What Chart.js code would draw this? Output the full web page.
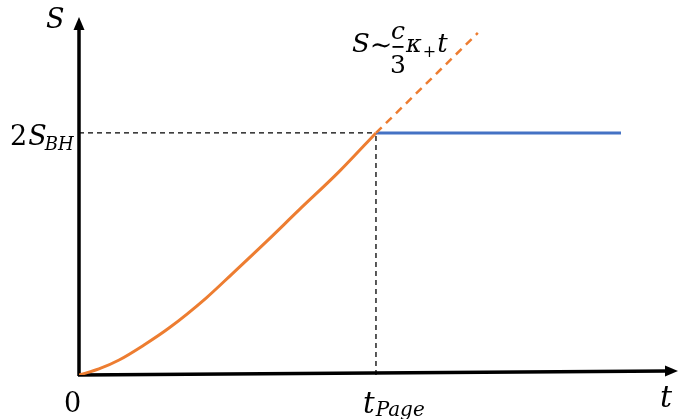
<!DOCTYPE html>
<html>
<head>
<meta charset="utf-8">
<script src="https://cdn.jsdelivr.net/npm/chart.js@4.4.0/dist/chart.umd.min.js"></script>
<style>
  html, body { margin: 0; padding: 0; background: #fff; }
  #wrap { width: 678px; height: 419px; }
</style>
</head>
<body>
<div id="wrap"><canvas id="entropyChart"></canvas></div>
<script>
// t measured in units of t_Page, S in units of 2S_BH
const curveT = [0, 0.067, 0.135, 0.219, 0.303, 0.428, 0.515, 0.63, 0.741, 0.875, 1];
const curveS = [0, 0.025, 0.062, 0.124, 0.194, 0.318, 0.417, 0.55, 0.682, 0.839, 1];
const linearT = [1, 1.343];
const linearS = [1, 1.413];
const plateauT = [1, 1.825];
const plateauS = [1, 1];
const tPage = 1;
const sPage = 1;
const xMax = 2.017;
const yMax = 1.479;

const toPoints = (xs, ys) => xs.map((x, i) => ({ x: x, y: ys[i] }));
const serif = "'DejaVu Serif', serif";

// draw pieces of text one after another: [text, font, dy, gapAfter]
function drawRun(ctx, parts, x, y) {
  parts.forEach(([text, font, dy, gap]) => {
    ctx.font = font + " " + serif;
    ctx.fillText(text, x, y + (dy || 0));
    x += ctx.measureText(text).width + (gap || 0);
  });
  return x;
}

const axesPlugin = {
  id: "axes",
  beforeDatasetsDraw(chart) {
    const { ctx, scales } = chart;
    const x0 = scales.x.getPixelForValue(0);
    const y0 = scales.y.getPixelForValue(0);
    const xEnd = scales.x.getPixelForValue(xMax);
    const yTop = scales.y.getPixelForValue(yMax);
    const tilt = 4;
    ctx.save();
    ctx.strokeStyle = "#000";
    ctx.fillStyle = "#000";
    ctx.lineWidth = 3.5;
    // y axis
    ctx.beginPath();
    ctx.moveTo(x0, y0 + 1);
    ctx.lineTo(x0, yTop + 10);
    ctx.stroke();
    ctx.beginPath();
    ctx.moveTo(x0, yTop);
    ctx.lineTo(x0 - 5.5, yTop + 13);
    ctx.lineTo(x0 + 5.5, yTop + 13);
    ctx.closePath();
    ctx.fill();
    // x axis (slightly tilted like the original drawing)
    ctx.beginPath();
    ctx.moveTo(x0 - 1, y0);
    ctx.lineTo(xEnd - 10, y0 - tilt);
    ctx.stroke();
    ctx.beginPath();
    ctx.moveTo(xEnd, y0 - tilt);
    ctx.lineTo(xEnd - 13, y0 - tilt - 5.5);
    ctx.lineTo(xEnd - 13, y0 - tilt + 5.5);
    ctx.closePath();
    ctx.fill();
    ctx.restore();
  },
  afterDraw(chart) {
    const { ctx, scales } = chart;
    const x0 = scales.x.getPixelForValue(0);
    const y0 = scales.y.getPixelForValue(0);
    const xp = scales.x.getPixelForValue(tPage);
    const yp = scales.y.getPixelForValue(sPage);
    ctx.save();
    ctx.fillStyle = "#000";
    ctx.textBaseline = "alphabetic";
    ctx.textAlign = "left";

    // S (y axis label)
    drawRun(ctx, [["S", "italic 27px"]], x0 - 33, 28);

    // 2S_BH
    drawRun(ctx, [
      ["2", "27px", 0, 1],
      ["S", "italic 27px", 0, -2],
      ["BH", "italic 18px", 5],
    ], 10, yp + 12);

    // 0
    drawRun(ctx, [["0", "27px"]], x0 - 15, y0 + 37);

    // t_Page
    drawRun(ctx, [
      ["t", "italic 29px", 0, 1],
      ["Page", "italic 20px", 3],
    ], xp - 13, y0 + 38);

    // t (x axis label)
    drawRun(ctx, [["t", "italic 30px"]], 660, 407);

    // S ~ c/3 kappa_+ t
    drawRun(ctx, [["S", "italic 26px", 0, 0], ["\u223C", "27px", 2]], 352, 52);
    ctx.textAlign = "center";
    ctx.font = "italic 25px " + serif;
    ctx.fillText("c", 398, 39);
    ctx.font = "25px " + serif;
    ctx.fillText("3", 398, 73);
    ctx.fillRect(392.5, 46, 11, 1.8);
    ctx.textAlign = "left";
    drawRun(ctx, [
      ["\u03BA", "italic 24px", 0, 1],
      ["+", "16px", 5, 1],
      ["t", "italic 26px"],
    ], 406, 52);
    ctx.restore();
  }
};

const ctx = document.getElementById("entropyChart").getContext("2d");

new Chart(ctx, {
  type: "scatter",
  data: {
    datasets: [
      {
        label: "guide horizontal",
        data: toPoints([0, tPage], [sPage, sPage]),
        showLine: true,
        borderColor: "#000",
        borderWidth: 1.3,
        borderDash: [5, 4],
        pointRadius: 0,
      },
      {
        label: "guide vertical",
        data: toPoints([tPage, tPage], [0, sPage]),
        showLine: true,
        borderColor: "#000",
        borderWidth: 1.3,
        borderDash: [5, 4],
        pointRadius: 0,
      },
      {
        label: "linear growth",
        data: toPoints(linearT, linearS),
        showLine: true,
        borderColor: "#ED7D31",
        borderWidth: 2.5,
        borderDash: [8, 6],
        pointRadius: 0,
      },
      {
        label: "plateau",
        data: toPoints(plateauT, plateauS),
        showLine: true,
        borderColor: "#4472C4",
        borderWidth: 3,
        pointRadius: 0,
      },
      {
        label: "entropy",
        data: toPoints(curveT, curveS),
        showLine: true,
        borderColor: "#ED7D31",
        borderWidth: 3,
        pointRadius: 0,
        cubicInterpolationMode: "monotone",
      },
    ],
  },
  options: {
    responsive: true,
    maintainAspectRatio: false,
    animation: false,
    layout: { padding: { left: 79, right: 0, top: 17, bottom: 44 } },
    plugins: {
      legend: { display: false },
      tooltip: { enabled: false },
    },
    scales: {
      x: { type: "linear", min: 0, max: xMax, display: false },
      y: { type: "linear", min: 0, max: yMax, display: false },
    },
  },
  plugins: [axesPlugin],
});
</script>
</body>
</html>
